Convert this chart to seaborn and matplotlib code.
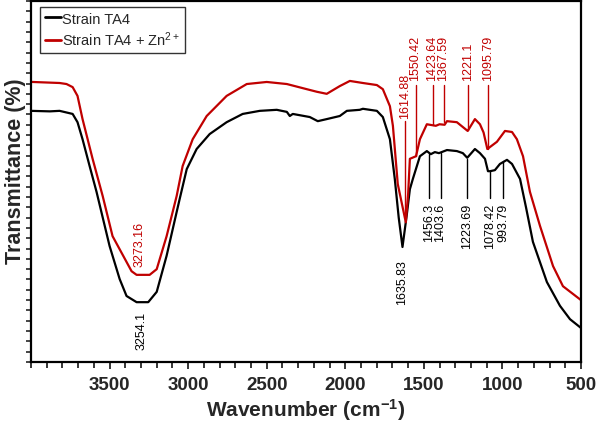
import matplotlib
matplotlib.use('Agg')
import matplotlib.pyplot as plt
from matplotlib.ticker import MultipleLocator, FixedLocator, NullFormatter
import seaborn as sns
import pandas as pd

# spectrum values (wavenumber cm-1, transmittance %)
wn_ta4 = [4000, 3880, 3818, 3735, 3704, 3672, 3627, 3583, 3500, 3436, 3392, 3328,
          3254, 3200, 3137, 3073, 3054, 3009, 2946, 2863, 2755, 2653, 2544, 2436,
          2372, 2353, 2334, 2226, 2175, 2118, 2035, 1990, 1908, 1888, 1799, 1761,
          1716, 1685, 1660, 1636, 1608, 1589, 1570, 1525, 1481, 1456, 1430, 1404,
          1353, 1290, 1252, 1224, 1175, 1143, 1111, 1092, 1078, 1048, 1016, 971,
          939, 888, 850, 806, 717, 634, 570, 500]
t_ta4 = [68.7, 68.6, 68.7, 68.1, 66.5, 63.2, 58.0, 53.0, 42.5, 36.1, 32.8, 31.6,
         31.6, 33.6, 40.6, 49.1, 51.6, 57.4, 61.3, 64.2, 66.5, 68.1, 68.7, 68.9,
         68.5, 67.7, 68.1, 67.5, 66.7, 67.1, 67.7, 68.7, 68.9, 69.1, 68.7, 67.5,
         63.2, 55.5, 48.0, 42.3, 48.7, 53.5, 55.5, 59.9, 60.9, 60.3, 60.7, 60.5,
         61.1, 60.9, 60.5, 59.6, 61.3, 60.5, 59.4, 57.0, 57.0, 57.2, 58.4, 59.2,
         58.4, 55.5, 50.0, 43.3, 35.5, 30.9, 28.3, 26.6]

wn_zn = [4000, 3990, 3818, 3774, 3735, 3704, 3672, 3608, 3544, 3481, 3392, 3360,
         3328, 3273, 3245, 3200, 3137, 3073, 3035, 2971, 2882, 2755, 2627, 2500,
         2372, 2245, 2181, 2118, 2035, 1971, 1888, 1799, 1761, 1716, 1697, 1666,
         1615, 1600, 1589, 1550, 1525, 1481, 1424, 1400, 1368, 1353, 1290, 1221,
         1175, 1143, 1120, 1096, 1035, 984, 939, 908, 869, 825, 761, 678, 615, 500]
t_zn = [74.3, 74.3, 74.1, 73.9, 73.3, 71.6, 67.1, 59.4, 52.2, 44.4, 39.4, 37.6,
        36.9, 36.9, 36.9, 38.0, 44.4, 52.2, 58.0, 63.2, 67.7, 71.6, 73.9, 74.3,
        73.9, 72.9, 72.4, 72.0, 73.5, 74.5, 74.1, 73.7, 72.9, 69.6, 65.8, 54.5,
        47.1, 52.6, 59.4, 59.9, 63.2, 66.1, 65.8, 66.1, 66.0, 66.7, 66.5, 64.8,
        67.1, 66.1, 64.5, 61.3, 62.7, 64.8, 64.6, 63.2, 59.9, 53.0, 46.4, 38.6,
        34.7, 32.0]

# peak labels (value, where it sits on the x axis, end of its tick)
red_top_peaks = [1550.42, 1423.64, 1367.59, 1221.1, 1095.79]
red_top_x = [1553, 1445, 1375, 1221, 1092]
red_top_ends = [59.9, 65.9, 66.5, 65.0, 61.3]
black_low_peaks = [1456.3, 1403.6, 1223.69, 1078.42, 993.79]
black_low_x = [1468, 1394, 1224, 1078, 994]
black_low_starts = [60.3, 60.5, 59.4, 57.0, 59.0]

RED = '#c00000'

sns.set_style('ticks')
plt.rcParams['font.family'] = ['Liberation Sans', 'DejaVu Sans']
plt.rcParams['mathtext.default'] = 'regular'

fig = plt.figure(figsize=(5.98, 4.27), dpi=100)
ax = fig.add_axes([31 / 598, 1 - 363 / 427, 550 / 598, 361 / 427])

df1 = pd.DataFrame({'wn': wn_ta4, 't': t_ta4})
df2 = pd.DataFrame({'wn': wn_zn, 't': t_zn})
sns.lineplot(data=df1, x='wn', y='t', ax=ax, color='black', lw=1.6,
             sort=False, estimator=None, label='Strain TA4')
sns.lineplot(data=df2, x='wn', y='t', ax=ax, color=RED, lw=1.6,
             sort=False, estimator=None, label='Strain TA4 + Zn$^{2+}$')

ax.set_xlim(4000, 500)
ax.set_ylim(20, 90)
ax.xaxis.set_major_locator(FixedLocator([3500, 3000, 2500, 2000, 1500, 1000, 500]))
ax.xaxis.set_minor_locator(MultipleLocator(100))
ax.yaxis.set_major_locator(MultipleLocator(2))
ax.yaxis.set_major_formatter(NullFormatter())
ax.tick_params(axis='x', which='major', length=5, width=1.3, direction='out',
               labelsize=13.5, pad=5)
ax.tick_params(axis='x', which='minor', length=4.5, width=1.3, direction='out')
ax.tick_params(axis='y', which='major', length=3.5, width=1.2, direction='out')
for lab in ax.get_xticklabels():
    lab.set_fontweight('bold')
for sp in ax.spines.values():
    sp.set_visible(True)
    sp.set_linewidth(1.6)
    sp.set_color('black')

ax.set_xlabel('Wavenumber (cm$^{-1}$)', fontsize=15, fontweight='bold', labelpad=2)
ax.set_ylabel('Transmittance (%)', fontsize=15.5, fontweight='bold')
ax.yaxis.set_label_coords(-0.009, 0.53)

fs = 9
# broad O-H band labels
ax.text(3273.16 + 36, 38.6, '3273.16', color=RED, rotation=90, ha='center',
        va='bottom', fontsize=fs)
ax.text(3254.1 + 42, 29.9, '3254.1', color='black', rotation=90, ha='center',
        va='top', fontsize=fs)
ax.text(1635.83, 40.0, '1635.83', color='black', rotation=90, ha='center',
        va='top', fontsize=fs)

# 1614.88 red label with long tick
ax.plot([1620, 1620], [48.0, 66.8], color=RED, lw=1)
ax.text(1620, 67.4, '1614.88', color=RED, rotation=90, ha='center',
        va='bottom', fontsize=fs)

for wn, x, yend in zip(red_top_peaks, red_top_x, red_top_ends):
    ax.plot([x, x], [yend, 73.8], color=RED, lw=1)
    ax.text(x, 74.7, f'{wn:g}', color=RED, rotation=90, ha='center',
            va='bottom', fontsize=fs)

for wn, x, ystart in zip(black_low_peaks, black_low_x, black_low_starts):
    ax.plot([x, x], [ystart, 51.8], color='black', lw=1)
    ax.text(x, 50.8, f'{wn:g}', color='black', rotation=90, ha='center',
            va='top', fontsize=fs)

leg = ax.legend(loc='upper left', bbox_to_anchor=(0.017, 0.983), fontsize=10.5,
                frameon=True, fancybox=False, edgecolor='black', handlelength=1.1,
                handletextpad=0.1, borderpad=0.3, labelspacing=0.3,
                borderaxespad=0)
leg.get_frame().set_linewidth(1.0)
for line in leg.get_lines():
    line.set_linewidth(2)

fig.savefig('out.png', dpi=100)
